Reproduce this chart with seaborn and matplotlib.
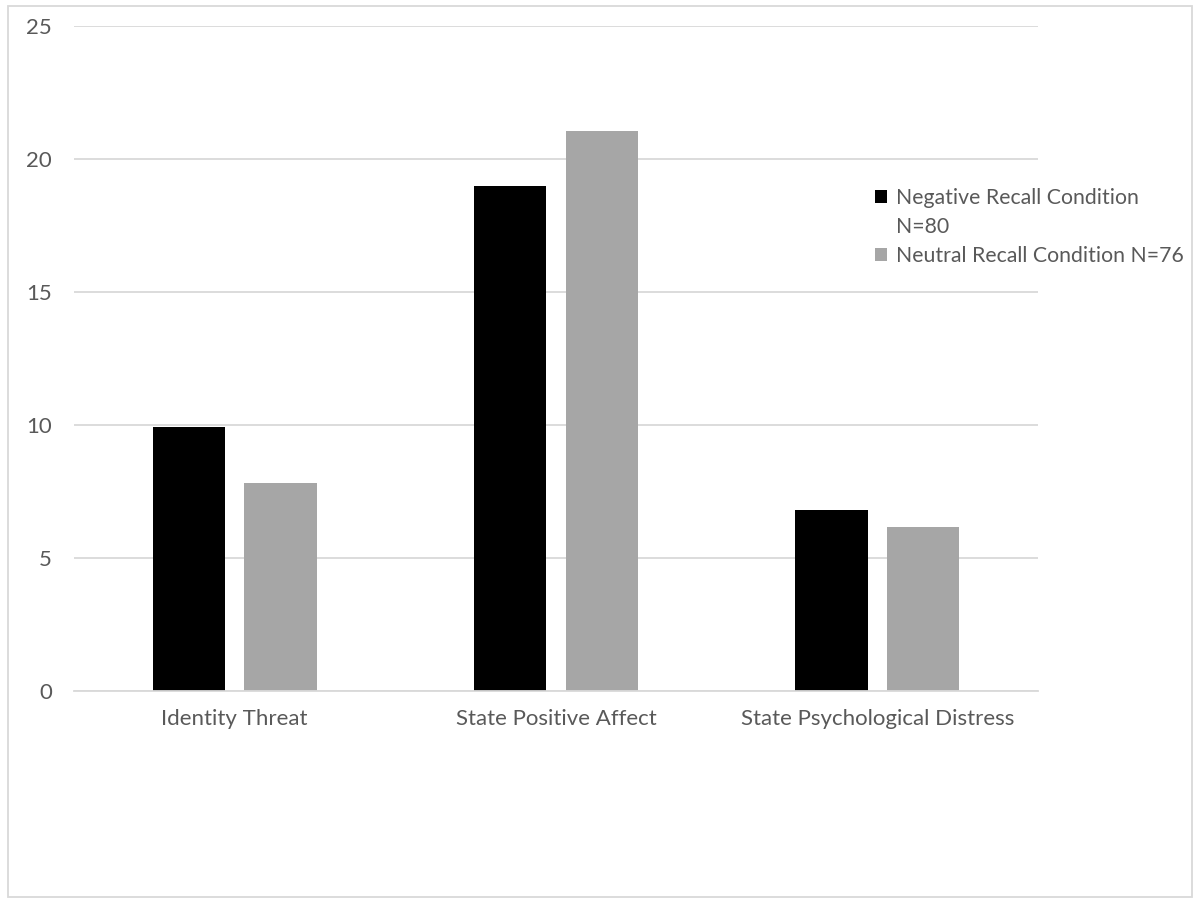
import matplotlib
matplotlib.use("Agg")
import matplotlib.pyplot as plt
import seaborn as sns
import pandas as pd
from matplotlib.patches import Rectangle

categories = ["Identity Threat", "State Positive Affect", "State Psychological Distress"]
negative_values = [9.92, 18.98, 6.81]
neutral_values = [7.81, 21.06, 6.18]
series_names = ["Negative Recall Condition N=80", "Neutral Recall Condition N=76"]
y_ticks = [0, 5, 10, 15, 20, 25]

df = pd.DataFrame({
    "category": categories * 2,
    "value": negative_values + neutral_values,
    "series": [series_names[0]] * 3 + [series_names[1]] * 3,
})

sns.set_theme(style="white")
plt.rcParams["font.family"] = ["Lato", "DejaVu Sans"]

W, H = 1198, 898
fig = plt.figure(figsize=(W / 100, H / 100), dpi=100)
ax = fig.add_axes([74 / W, 1 - 691.3 / H, (1038 - 74) / W, (691.3 - 25.7) / H])

sns.barplot(data=df, x="category", y="value", hue="series", order=categories,
            hue_order=series_names, palette=["#000000", "#a6a6a6"],
            width=0.57, gap=0.21, ax=ax, legend=True, linewidth=0, saturation=1)

ax.set_ylim(0, 25)
ax.set_xlim(-0.5, 2.5)
ax.set_yticks(y_ticks)
ax.set_yticklabels([str(t) for t in y_ticks])
ax.yaxis.grid(True, color="#d9d9d9", linewidth=1.3)
ax.set_axisbelow(True)
for s in ["top", "right", "left"]:
    ax.spines[s].set_visible(False)
ax.spines["bottom"].set_color("#d9d9d9")
ax.spines["bottom"].set_linewidth(1.3)
ax.tick_params(axis="both", length=0, labelsize=16, colors="#595959")
ax.tick_params(axis="y", pad=16)
ax.tick_params(axis="x", pad=13)
ax.set_xlabel("")
ax.set_ylabel("")

# legend: first series label wraps onto a second line, handle on first line
handles, labels = ax.get_legend_handles_labels()
blank = Rectangle((0, 0), 1, 1, visible=False)
words = labels[0].rsplit(" ", 1)
leg_handles = [handles[0], blank, handles[1]]
leg_labels = [words[0], words[1], labels[1]]
ax.legend(leg_handles, leg_labels, loc="upper left", bbox_to_anchor=(875 / W, 1 - 188 / H),
          bbox_transform=fig.transFigure, frameon=False, fontsize=15.3,
          handlelength=0.58, handleheight=0.58, handletextpad=0.42,
          labelspacing=0.42, labelcolor="#595959", borderaxespad=0, borderpad=0)

fig.patches.append(Rectangle((8 / W, 1 - 897 / H), (1192 - 8) / W, (897 - 6) / H,
                             transform=fig.transFigure, fill=False,
                             edgecolor="#d9d9d9", linewidth=1.3))

fig.savefig("out.png", dpi=100, facecolor="white")
